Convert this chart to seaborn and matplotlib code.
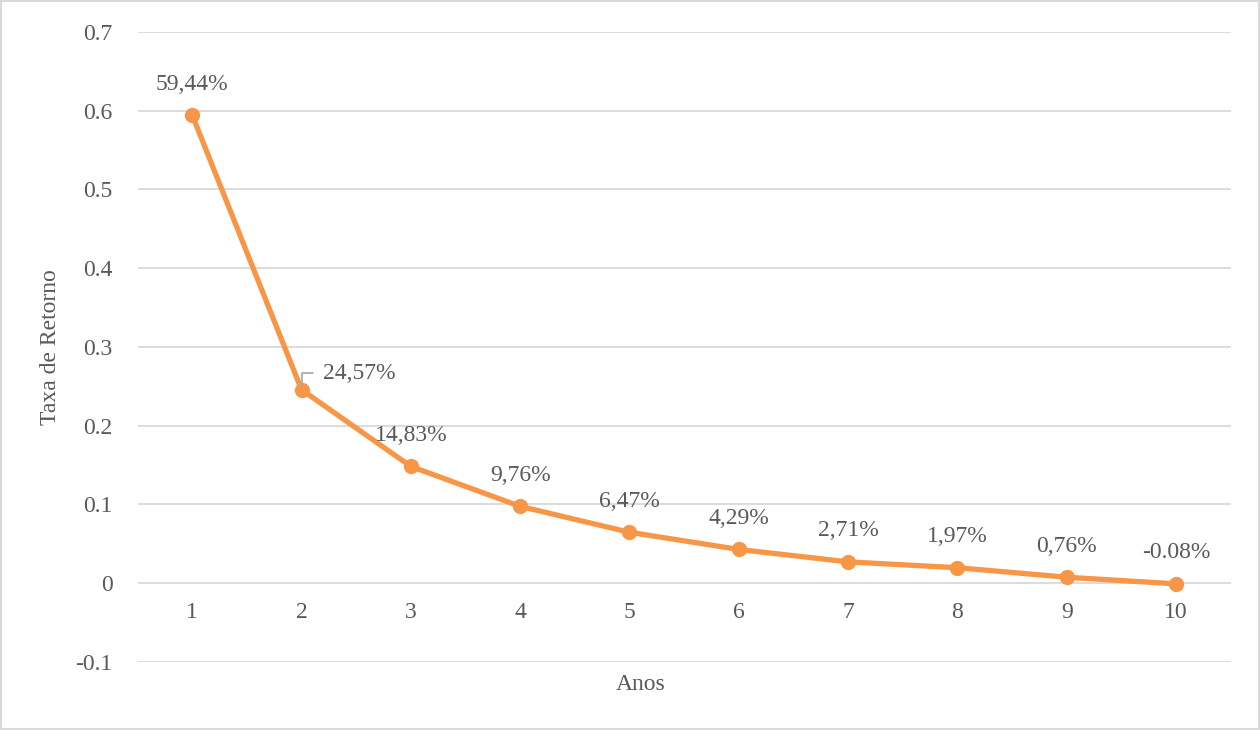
import matplotlib
matplotlib.use("Agg")
import matplotlib.pyplot as plt
from matplotlib.patches import Rectangle
import seaborn as sns
import pandas as pd

anos = [1, 2, 3, 4, 5, 6, 7, 8, 9, 10]
taxa = [0.5944, 0.2457, 0.1483, 0.0976, 0.0647, 0.0429, 0.0271, 0.0197, 0.0076, -0.0008]
rotulos = ["59,44%", "24,57%", "14,83%", "9,76%", "6,47%", "4,29%", "2,71%", "1,97%", "0,76%", "-0.08%"]
y_ticks = [-0.1, 0, 0.1, 0.2, 0.3, 0.4, 0.5, 0.6, 0.7]
y_tick_labels = ["-0.1", "0", "0.1", "0.2", "0.3", "0.4", "0.5", "0.6", "0.7"]

sns.set_theme(style="white")
plt.rcParams["font.family"] = ["Liberation Serif", "DejaVu Serif"]

laranja = "#F79646"
texto = "#595959"
grade = "#D9D9D9"

df = pd.DataFrame({"Anos": anos, "Taxa": taxa})

fig = plt.figure(figsize=(12.6, 7.3), dpi=100)
ax = fig.add_axes([0.1092, 0.0932, 0.8675, 0.8630])

for t in y_ticks:
    ax.axhline(t, color=grade, lw=1.3, zorder=0)

sns.lineplot(data=df, x="Anos", y="Taxa", ax=ax, color=laranja, lw=3.8,
             marker="o", markersize=11, markeredgewidth=0, zorder=3)

fs = 17
for i, (x, y, lab) in enumerate(zip(anos, taxa, rotulos)):
    if i == 1:
        # label pushed to the right, joined to its point by a leader line
        ax.annotate(lab, xy=(x, y), xytext=(x + 0.2, y + 0.021),
                    ha="left", va="center", fontsize=fs, color=texto,
                    arrowprops=dict(arrowstyle="-", color="#A6A6A6", lw=1.2,
                                    connectionstyle="angle,angleA=0,angleB=90,rad=0",
                                    shrinkA=5, shrinkB=3))
    else:
        ax.annotate(lab, xy=(x, y), xytext=(0, 31), textcoords="offset pixels",
                    ha="center", va="center", fontsize=fs, color=texto)

ax.set_xlim(0.5, 10.5)
ax.set_ylim(-0.1, 0.7)
ax.set_xticks(anos)
ax.set_yticks(y_ticks)
ax.set_yticklabels(y_tick_labels)
ax.tick_params(axis="both", length=0, labelsize=fs, labelcolor=texto)
ax.tick_params(axis="y", pad=18)
for s in ax.spines.values():
    s.set_visible(False)

# category labels sit just under the zero line
ax.set_xticklabels([])
for a in anos:
    ax.text(a, -0.037, str(a), ha="center", va="center", fontsize=fs, color=texto)

ax.set_xlabel("")
ax.set_ylabel("")
fig.text(0.5085, 1 - 685 / 730, "Anos", ha="center", va="center", fontsize=fs, color=texto)
fig.text(51 / 1260, 1 - 347 / 730, "Taxa de Retorno", ha="center", va="center",
         rotation=90, fontsize=fs, color=texto)

fig.patches.append(Rectangle((0.0008, 0.0014), 0.9984, 0.9972, transform=fig.transFigure,
                             fill=False, edgecolor=grade, lw=1.5))

fig.savefig("out.png", dpi=100, facecolor="white")
